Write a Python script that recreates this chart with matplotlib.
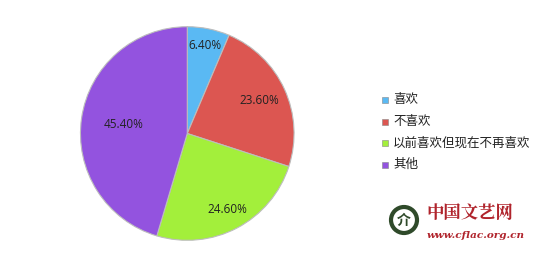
import numpy as np
import matplotlib
matplotlib.use('Agg')
import matplotlib.pyplot as plt
from matplotlib.patches import Ellipse, Rectangle

plt.rcParams['font.family'] = ['Noto Sans CJK SC', 'DejaVu Sans']

# data
labels = ['喜欢', '不喜欢', '以前喜欢但现在不再喜欢', '其他']
values = [6.4, 23.6, 24.6, 45.4]
pct_text = ['6.40%', '23.60%', '24.60%', '45.40%']
colors = ['#5ab9f3', '#dc5651', '#a3ef3b', '#9353df']
label_r = [0.84, 0.74, 0.80, 0.60]

fig = plt.figure(figsize=(5.5, 2.67), dpi=100)
ax = fig.add_axes([0.146, 0.1, 0.389, 0.80])

wedges, _ = ax.pie(values, colors=colors, startangle=90, counterclock=False,
                   wedgeprops=dict(edgecolor='#bdbdbd', linewidth=0.8))
ax.set_xlim(-1.0, 1.0)
ax.set_ylim(-1.0, 1.0)
ax.set_aspect('equal')

for w, t, r in zip(wedges, pct_text, label_r):
    ang = np.deg2rad((w.theta1 + w.theta2) / 2)
    ax.text(r * np.cos(ang), r * np.sin(ang), t, ha='center', va='center',
            fontsize=8.5, color='#222222', family=['Open Sans', 'DejaVu Sans'])

# legend
for i, (lab, c) in enumerate(zip(labels, colors)):
    y = 1 - (100 + i * 21.5) / 267
    fig.add_artist(Rectangle((382 / 550, y - 3 / 267), 6 / 550, 6 / 267,
                             transform=fig.transFigure, facecolor=c,
                             edgecolor='#888888', linewidth=0.4))
    fig.text(393 / 550, y, lab, fontsize=9, va='center', ha='left', color='#222222')

# watermark
fig.add_artist(Ellipse((404 / 550, 1 - 220 / 267), 26 / 550, 26 / 267, transform=fig.transFigure,
                       facecolor='white', edgecolor='#2f4a2a', linewidth=3))
fig.text(404 / 550, 1 - 221 / 267, '介', fontsize=10, ha='center', va='center',
         color='#2f4a2a', fontweight='bold')
fig.text(426 / 550, 1 - 213 / 267, '中国文艺网', fontsize=12.5, ha='left', va='center',
         color='#b0242c', fontweight='bold', family=['Noto Serif CJK SC', 'Noto Sans CJK SC'])
fig.text(427 / 550, 1 - 236 / 267, 'www.cflac.org.cn', fontsize=7.5, ha='left', va='center',
         color='#b0242c', style='italic', fontweight='bold', family=['DejaVu Serif'])

fig.savefig('out.png', dpi=100)
